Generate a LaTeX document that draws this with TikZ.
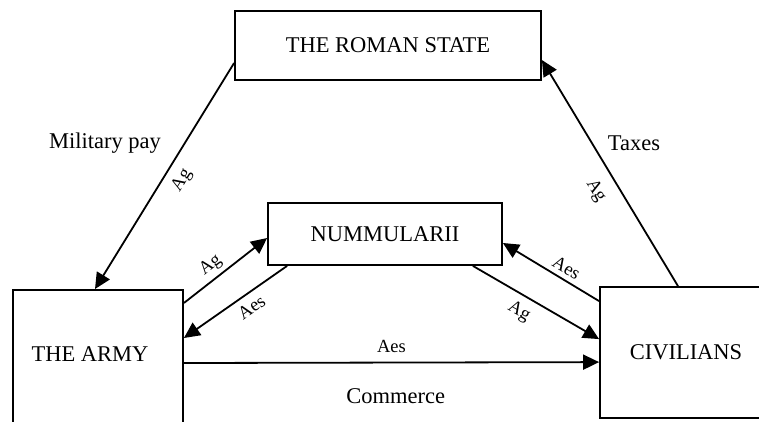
\documentclass[tikz,border=0pt]{standalone}
\usepackage{fontspec}
\setmainfont{Liberation Serif}
\usetikzlibrary{arrows.meta}

\begin{document}
\begin{tikzpicture}[x=1pt,y=-1pt,
  box/.style={draw, line width=1.8pt, inner sep=0pt, font=\fontsize{22.5}{27}\selectfont},
  flow/.style={line width=1.8pt, -{Triangle[length=16pt,width=15pt]}},
  coin/.style={font=\fontsize{18.5}{22}\selectfont, sloped},
  word/.style={font=\fontsize{22.5}{27}\selectfont}]

\useasboundingbox (0,0) rectangle (759,421);

% Boxes
% state is the top box, numm the middle one
% army runs off the bottom, civ runs off the right
\node[box, minimum width=306pt, minimum height=69pt] (state) at (388,45.5) {THE ROMAN STATE};
\node[box, minimum width=234pt, minimum height=62pt] (numm) at (385,234) {NUMMULARII};
\node[box, anchor=north, minimum width=170pt, text height=71.5pt, text depth=100pt] (army) at (98,289) {\mbox{THE ARMY\hspace{16pt}}};
\node[box, minimum width=172pt, minimum height=131pt] (civ) at (686,352.5) {CIVILIANS};

% Military pay (state to army)
\draw[flow] ([yshift=-17.5pt]state.west) -- ([xshift=-3pt]army.north)
  node[coin, pos=0.48, below=5pt] (payag) {Ag};

% Taxes (civilians to state)
\draw[flow] ([xshift=-8pt]civ.north) -- ([yshift=-14.5pt]state.east)
  node[coin, pos=0.47, below=9pt] (taxag) {Ag};

% Army to nummularii
\draw[flow] ([yshift=-14pt]army.north east) -- ([yshift=-4pt]numm.west)
  node[coin, pos=0.42, above=1pt] (armyag) {Ag};

% Nummularii to army
\draw[flow] ([xshift=20pt]numm.south west) -- ([yshift=-49pt]army.north east)
  node[coin, pos=0.42, below=3pt] (armyaes) {Aes};

% Nummularii to civilians
\draw[flow] ([xshift=-30pt]numm.south east) -- ([yshift=-53pt]civ.north west)
  node[coin, pos=0.43, below=4pt] (civag) {Ag};

% Civilians to nummularii
\draw[flow] ([yshift=-15pt]civ.north west) -- ([yshift=-9pt]numm.east)
  node[coin, pos=0.4, above=1pt] (civaes) {Aes};

% Commerce (army to civilians)
\draw[flow] ([yshift=-74pt]army.north east) -- ([yshift=-76pt]civ.north west)
  node[coin, pos=0.5, above=6pt] (tradeaes) {Aes}
  node[word, pos=0.51, below=22pt] (trade) {Commerce};

% Free labels
\node[word] (paytext) at (105,143) {Military pay};
\node[word] (taxtext) at (634,143) {Taxes};

\end{tikzpicture}
\end{document}
